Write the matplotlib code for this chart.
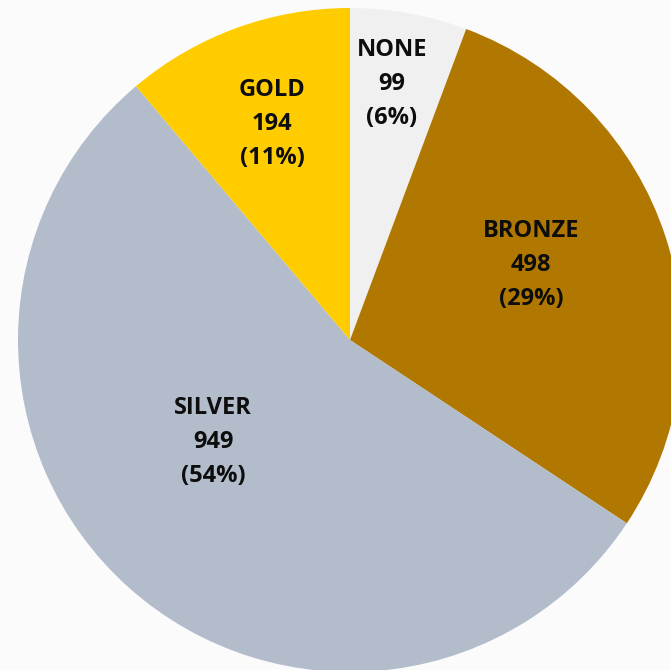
import matplotlib.pyplot as plt

# medal counts
categories = ["NONE", "BRONZE", "SILVER", "GOLD"]
counts = [99, 498, 949, 194]
colors = ["#F0F0F0", "#B07800", "#B3BCCB", "#FFCC00"]

# where each label block sits (pixel coords, y measured from top)
label_pos = [(392, 84), (531, 265), (213, 442), (272, 124)]

W, H = 671, 670
fig = plt.figure(figsize=(W / 100, H / 100), dpi=100, facecolor="#FBFBFB")
ax = fig.add_axes([0, 0, 1, 1])
ax.set_facecolor("#FBFBFB")

cx, cy, r = 350, 340, 332
ax.pie(counts, colors=colors, startangle=90, counterclock=False,
       center=(cx, H - cy), radius=r, frame=True,
       wedgeprops=dict(linewidth=0))

# whole-number percentages that still add up to 100
total = sum(counts)
raw = [100 * n / total for n in counts]
pcts = [int(v) for v in raw]
order = sorted(range(len(raw)), key=lambda i: raw[i] - pcts[i], reverse=True)
for i in order[:100 - sum(pcts)]:
    pcts[i] += 1

for name, n, pct, (x, y) in zip(categories, counts, pcts, label_pos):
    ax.text(x, H - y, f"{name}\n{n}\n({pct}%)", ha="center", va="center",
            fontsize=17, fontweight="bold", family="Open Sans",
            color="#0D0D0D", linespacing=1.55)

ax.set_xlim(0, W)
ax.set_ylim(0, H)
ax.set_aspect("equal")
ax.axis("off")

fig.savefig("out.png", dpi=100, facecolor=fig.get_facecolor())
